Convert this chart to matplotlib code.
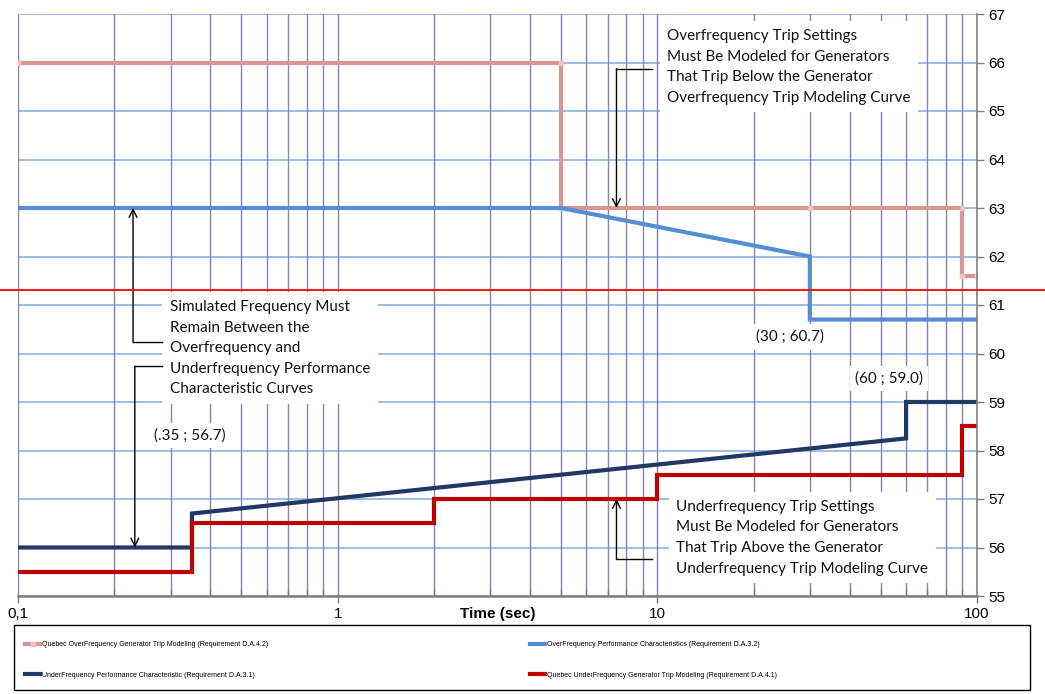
import matplotlib
matplotlib.use("Agg")
import matplotlib.pyplot as plt
from matplotlib.ticker import FixedLocator, NullFormatter
from matplotlib.patches import Rectangle

# ---------------- data ----------------
qof_t = [0.1, 5, 5, 30, 90, 90, 100]
qof_f = [66, 66, 63, 63, 63, 61.6, 61.6]

ofp_t = [0.1, 5, 30, 30, 100]
ofp_f = [63, 63, 62, 60.7, 60.7]

ufp_t = [0.1, 0.35, 0.35, 60, 60, 100]
ufp_f = [56, 56, 56.7, 58.25, 59, 59]

quf_t = [0.1, 0.35, 0.35, 2, 2, 10, 10, 90, 90, 100]
quf_f = [55.5, 55.5, 56.5, 56.5, 57, 57, 57.5, 57.5, 58.5, 58.5]

ref_line = 61.3

x_ticks = [0.1, 1, 10, 100]
x_tick_labels = ["0,1", "1", "10", "100"]
y_ticks = list(range(55, 68))

labels = [
    "Quebec OverFrequency Generator Trip Modeling (Requirement D.A.4.2)",
    "OverFrequency Performance Characteristics (Requirement D.A.3.2)",
    "UnderFrequency Performance Characteristic (Requirement D.A.3.1)",
    "Quebec UnderFrequency Generator Trip Modeling (Requirement D.A.4.1)",
]

# ---------------- figure ----------------
fig = plt.figure(figsize=(10.45, 6.94), dpi=100)
ax = fig.add_axes([18/1045, 1-596/694, 959/1045, 582/694])

ax.set_xscale("log")
ax.set_xlim(0.1, 100)
ax.set_ylim(55, 67)

hgrid = "#8db3e2"
vgrid = "#8484b8"
minor_x = [m*10.0**e for e in (-1, 0, 1) for m in range(2, 10)]
for y in y_ticks:
    ax.axhline(y, color=hgrid, lw=1.2, zorder=1)
for x in minor_x + [0.1, 1, 10]:
    ax.axvline(x, color=vgrid, lw=1.0, zorder=1)

lw = 3.0
l_qof, = ax.plot(qof_t, qof_f, color="#d99694", lw=lw, marker="s", ms=3,
                 mfc="#ecc4c3", mec="#ecc4c3", zorder=4, solid_joinstyle="miter")
l_ofp, = ax.plot(ofp_t, ofp_f, color="#558ed5", lw=lw, zorder=4, solid_joinstyle="miter")
l_ufp, = ax.plot(ufp_t, ufp_f, color="#1f3864", lw=lw, zorder=4, solid_joinstyle="miter")
l_quf, = ax.plot(quf_t, quf_f, color="#c00000", lw=lw, zorder=4, solid_joinstyle="miter")

ax.axhline(ref_line, xmin=-18/959, xmax=1068/959, color="red", lw=1.3,
           clip_on=False, zorder=6)

# axes styling
for s in ("top", "left"):
    ax.spines[s].set_visible(False)
ax.spines["bottom"].set_color("#7f7f7f")
ax.spines["bottom"].set_linewidth(1.8)
ax.spines["right"].set_color("#7f7f7f")
ax.spines["right"].set_linewidth(1.2)
ax.spines["bottom"].set_zorder(5)
ax.spines["right"].set_zorder(5)

tickfam = ["Liberation Sans Narrow", "Liberation Sans"]
ax.yaxis.tick_right()
ax.yaxis.set_major_locator(FixedLocator(y_ticks))
ax.tick_params(axis="y", which="major", direction="out", length=5, width=1,
               color="#7f7f7f", labelsize=11, pad=3)
ax.xaxis.set_major_locator(FixedLocator(x_ticks))
ax.set_xticklabels(x_tick_labels)
ax.xaxis.set_minor_locator(FixedLocator(minor_x))
ax.xaxis.set_minor_formatter(NullFormatter())
ax.tick_params(axis="x", which="major", direction="out", length=5, width=1,
               color="#7f7f7f", labelsize=11, pad=3)
ax.tick_params(axis="x", which="minor", direction="in", length=5, width=1,
               color="#7f7f7f")
for lab in ax.get_xticklabels() + ax.get_yticklabels():
    lab.set_fontfamily(tickfam)

ax.set_xlabel("Time (sec)", fontsize=11, fontweight="bold",
              fontfamily=tickfam, labelpad=-10)

# ---------------- annotations ----------------
tfont = dict(fontsize=11, fontfamily="Lato", color="#111111", linespacing=1.6, zorder=3.5)
box = dict(facecolor="white", edgecolor="none", boxstyle="square,pad=0.5")

ax.text(10.74, 65.91, "Overfrequency Trip Settings\nMust Be Modeled for Generators\n"
        "That Trip Below the Generator\nOverfrequency Trip Modeling Curve",
        ha="left", va="center", bbox=box, **tfont)
ax.text(0.2985, 60.11, "Simulated Frequency Must\nRemain Between the\nOverfrequency and\n"
        "Underfrequency Performance\nCharacteristic Curves",
        ha="left", va="center", bbox=box, **tfont)
ax.text(11.46, 56.20, "Underfrequency Trip Settings\nMust Be Modeled for Generators\n"
        "That Trip Above the Generator\nUnderfrequency Trip Modeling Curve",
        ha="left", va="center", bbox=box, **tfont)

pbox = dict(facecolor="white", edgecolor="none", boxstyle="square,pad=0.35")
pfont = dict(fontsize=11, fontfamily="Lato", color="#111111", zorder=3.5)
ax.text(0.345, 58.30, "(.35 ; 56.7)", ha="center", va="center", bbox=pbox, **pfont)
ax.text(26.0, 60.34, "(30 ; 60.7)", ha="center", va="center", bbox=pbox, **pfont)
ax.text(53.1, 59.49, "(60 ; 59.0)", ha="center", va="center", bbox=pbox, **pfont)

aprops = dict(arrowstyle="->", color="black", lw=1.0, mutation_scale=14,
              shrinkA=0, shrinkB=0)
lk = dict(color="black", lw=1.0, zorder=5)

# top-right arrow
ax.plot([9.64, 7.45], [65.87, 65.87], **lk)
ax.annotate("", xy=(7.45, 63.0), xytext=(7.45, 65.87), arrowprops=aprops, zorder=5)
# left double arrow
ax.plot([0.229, 0.282], [60.24, 60.24], **lk)
ax.annotate("", xy=(0.229, 63.0), xytext=(0.229, 60.24), arrowprops=aprops, zorder=5)
ax.plot([0.282, 0.232], [59.74, 59.74], **lk)
ax.annotate("", xy=(0.232, 56.0), xytext=(0.232, 59.74), arrowprops=aprops, zorder=5)
# bottom-right arrow
ax.plot([9.64, 7.45], [55.76, 55.76], **lk)
ax.annotate("", xy=(7.45, 57.0), xytext=(7.45, 55.76), arrowprops=aprops, zorder=5)

# ---------------- legend ----------------
fig.add_artist(Rectangle((14/1045, 4/694), 1016/1045, 65/694,
                         transform=fig.transFigure, fill=False,
                         edgecolor="black", lw=1.0))
legkw = dict(loc="upper left", frameon=False,
             prop=dict(family=["Liberation Sans Narrow", "Liberation Sans"], size=5.0),
             handlelength=2.2, handletextpad=0.2, labelspacing=3.4,
             borderaxespad=0, borderpad=0)
leg1 = fig.legend([l_qof, l_ufp], [labels[0], labels[2]],
                  bbox_to_anchor=(25/1045, 1-641/694), **legkw)
leg2 = fig.legend([l_ofp, l_quf], [labels[1], labels[3]],
                  bbox_to_anchor=(530/1045, 1-641/694), **legkw)

fig.savefig("out.png", dpi=100)
